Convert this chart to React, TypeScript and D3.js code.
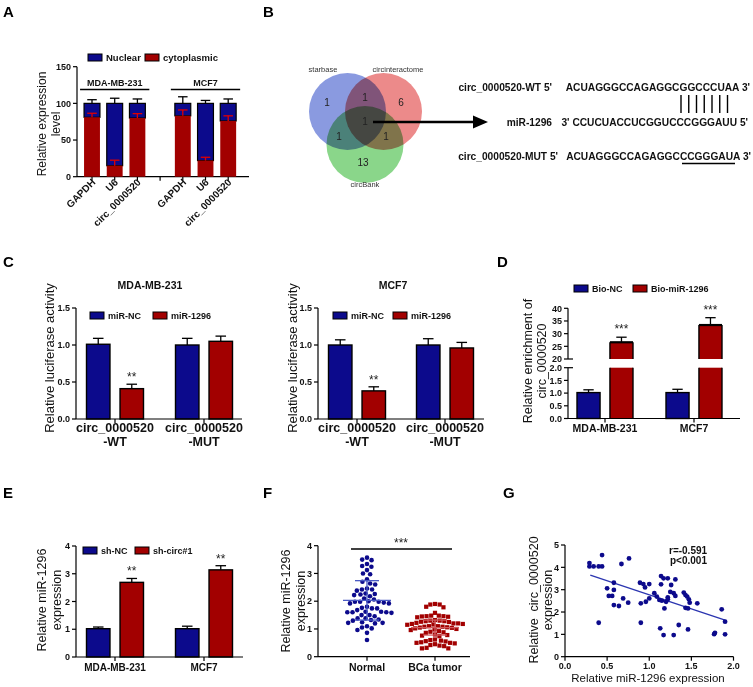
import React from 'react';
import * as d3 from 'd3';

const FONT = '"Liberation Sans", Arial, Helvetica, sans-serif';
const BLUE = '#0c0a8c';
const RED = '#a20000';
const INK = '#111';

// ---------- Panel A ----------
const aCells = ['MDA-MB-231', 'MCF7'];
const aGenes = ['GAPDH', 'U6', 'circ_0000520'];
const aCytoplasmic = [81, 15, 80, 83, 22, 76];
const aCytoplasmicErr = [5.5, 7.5, 6, 8, 4.5, 7];
const aNuclear = [19, 85, 20, 17, 78, 24];
const aNuclearErr = [5, 7, 6, 9, 4, 6];
const aTicks = [0, 50, 100, 150];

// ---------- Panel B ----------
const vennSets = ['starbase', 'circinteractome', 'circBank'];
const vennUnique = [1, 6, 13];
const vennPairs = [1, 1, 1]; // starbase∩circinteractome, starbase∩circBank, circinteractome∩circBank
const vennAll = 1;
const seqWT = 'ACUAGGGCCAGAGGCGGCCCUAA';
const seqMiR = 'CCUCUACCUCGGUCCCGGGAUU';
const seqMUT = 'ACUAGGGCCAGAGGCCCGGGAUA';

// ---------- Panel C ----------
const cConstructs = ['WT', 'MUT'];
const cSeries = ['miR-NC', 'miR-1296'];
const cMdaNC = [1.01, 1.0];
const cMdaNCErr = [0.08, 0.09];
const cMdaMiR = [0.41, 1.05];
const cMdaMiRErr = [0.06, 0.07];
const cMcfNC = [1.0, 1.0];
const cMcfNCErr = [0.07, 0.085];
const cMcfMiR = [0.38, 0.96];
const cMcfMiRErr = [0.055, 0.075];
const cTicks = [0, 0.5, 1.0, 1.5];

// ---------- Panel D ----------
const dCells = ['MDA-MB-231', 'MCF7'];
const dSeries = ['Bio-NC', 'Bio-miR-1296'];
const dNC = [1.02, 1.02];
const dNCErr = [0.11, 0.13];
const dMiR = [26.6, 33.4];
const dMiRErr = [2.0, 2.9];
const dTicksLow = [0, 0.5, 1.0, 1.5, 2.0];
const dTicksHigh = [20, 25, 30, 35, 40];

// ---------- Panel E ----------
const eCells = ['MDA-MB-231', 'MCF7'];
const eSeries = ['sh-NC', 'sh-circ#1'];
const eNC = [1.02, 1.02];
const eNCErr = [0.06, 0.09];
const eSh = [2.69, 3.14];
const eShErr = [0.14, 0.15];
const eTicks = [0, 1, 2, 3, 4];

// ---------- Panel F ----------
const fGroups = ['Normal', 'BCa tumor'];
const fNormal = [3.57, 3.5, 3.48, 3.34, 3.27, 3.24, 3.12, 3.0, 2.97, 2.79, 2.7, 2.64, 2.6, 2.46, 2.42, 2.42, 2.38, 2.28, 2.26, 2.24,
  2.22, 2.18, 2.1, 2.06, 2.0, 1.98, 1.98, 1.98, 1.95, 1.92, 1.92, 1.8, 1.76, 1.74, 1.74, 1.68, 1.62, 1.62, 1.6, 1.6,
  1.6, 1.58, 1.5, 1.5, 1.46, 1.38, 1.38, 1.34, 1.32, 1.3, 1.24, 1.22, 1.22, 1.2, 1.1, 1.05, 1.02, 0.96, 0.86, 0.6];
const fTumor = [1.9, 1.88, 1.88, 1.8, 1.78, 1.58, 1.48, 1.48, 1.46, 1.46, 1.45, 1.44, 1.42, 1.32, 1.3, 1.3, 1.28, 1.28, 1.26, 1.25,
  1.22, 1.2, 1.2, 1.18, 1.18, 1.16, 1.15, 1.1, 1.1, 1.08, 1.08, 1.06, 1.05, 1.04, 1.02, 1.0, 0.98, 0.96, 0.92, 0.9,
  0.88, 0.86, 0.8, 0.78, 0.76, 0.74, 0.62, 0.6, 0.58, 0.56, 0.55, 0.52, 0.5, 0.5, 0.48, 0.45, 0.42, 0.4, 0.38, 0.32, 0.3, 0.3];
const fMeanSD = [[2.03, 0.71], [1.05, 0.27]];
const fTicks = [0, 1, 2, 3, 4];

// ---------- Panel G ----------
const gX = [0.29, 0.29, 0.34, 0.40, 0.44, 0.44, 0.67, 0.76, 0.40, 0.50, 0.58, 0.58, 0.52, 0.56, 0.58, 0.64, 0.69, 0.75,
  0.89, 0.93, 0.95, 1.00, 0.90, 0.96, 1.00, 0.90, 1.06, 1.09, 1.12, 1.14, 1.14, 1.17, 1.22, 1.31, 1.26,
  1.15, 1.20, 1.22, 1.22, 1.18, 1.29, 1.25, 1.31, 1.13, 1.17, 1.29, 1.35, 1.46, 1.41, 1.43, 1.45, 1.47, 1.48, 1.43, 1.46, 1.57,
  1.77, 1.78, 1.86, 1.90, 1.90];
const gY = [4.19, 4.04, 4.04, 4.04, 4.04, 4.55, 4.15, 4.40, 1.52, 3.06, 3.31, 2.99, 2.72, 2.72, 2.31, 2.27, 2.61, 2.42,
  3.31, 3.25, 3.10, 3.25, 2.39, 2.46, 2.61, 1.52, 2.84, 2.69, 2.54, 3.61, 3.24, 3.51, 3.51, 3.46, 3.21,
  2.51, 2.46, 2.66, 2.57, 2.16, 2.84, 2.90, 2.72, 1.27, 0.97, 0.97, 1.42, 1.22, 2.87, 2.76, 2.69, 2.57, 2.42, 2.19, 2.16, 2.39,
  1.01, 1.07, 2.12, 1.57, 1.00];
const gFit = [4.03, -1.26]; // intercept, slope
const gFitRange = [0.3, 1.9];
const gStats = ['r=-0.591', 'p<0.001'];
const gTicksX = [0, 0.5, 1.0, 1.5, 2.0];
const gTicksY = [0, 1, 2, 3, 4, 5];

// ---------- helpers ----------
function YAxis({ x, scale, ticks, fmt }: any) {
  const [r0, r1] = scale.range();
  return (
    <g>
      <line x1={x} x2={x} y1={r0} y2={r1} stroke="#000" strokeWidth={1.2} />
      {ticks.map((t: number) => (
        <g key={t}>
          <line x1={x - 4} x2={x} y1={scale(t)} y2={scale(t)} stroke="#000" strokeWidth={1.2} />
          <text x={x - 6} y={scale(t) + 3.2} textAnchor="end" fontSize={9} fontWeight="bold" fill={INK}>{fmt(t)}</text>
        </g>
      ))}
    </g>
  );
}

function XLine({ x1, x2, y, ticks = [] }: any) {
  return (
    <g>
      <line x1={x1} x2={x2} y1={y} y2={y} stroke="#000" strokeWidth={1.2} />
      {ticks.map((t: number, i: number) => (
        <line key={i} x1={t} x2={t} y1={y} y2={y + 4} stroke="#000" strokeWidth={1.2} />
      ))}
    </g>
  );
}

function ErrBar({ x, y0, y1, cap, color = '#000' }: any) {
  return (
    <g stroke={color} strokeWidth={1.3}>
      <line x1={x} x2={x} y1={y0} y2={y1} />
      <line x1={x - cap / 2} x2={x + cap / 2} y1={y1} y2={y1} />
    </g>
  );
}

function RotLabel({ x, y, lines, size = 12.5, gap = 15 }: any) {
  return (
    <g>
      {lines.map((l: string, i: number) => (
        <text key={i} transform={`translate(${x + i * gap},${y}) rotate(-90)`} textAnchor="middle" fontSize={size} fill={INK} style={{ whiteSpace: 'pre' }}>{l}</text>
      ))}
    </g>
  );
}

function Legend({ items, colors, xs, y, size = 9 }: any) {
  return (
    <g>
      {items.map((it: string, i: number) => (
        <g key={it}>
          <rect x={xs[i]} y={y - 7} width={14} height={7} fill={colors[i]} stroke="#000" strokeWidth={1} />
          <text x={xs[i] + 18} y={y} fontSize={size} fontWeight="bold" fill={INK}>{it}</text>
        </g>
      ))}
    </g>
  );
}

function bands(groups: string[], series: string[], center0: number, step: number, groupW: number, innerPad = 0.3) {
  const p = 1 - groupW / step;
  const outer = d3.scaleBand().domain(groups).range([center0 - step / 2, center0 + step * (groups.length - 0.5)]).paddingInner(p).paddingOuter(p / 2);
  const inner = d3.scaleBand().domain(series).range([0, outer.bandwidth()]).paddingInner(innerPad);
  return { outer, inner };
}

function GroupedBars({ groups, series, vals, errs, colors, center0, step, groupW, y, stars = [] }: any) {
  const { outer, inner } = bands(groups, series, center0, step, groupW);
  const bw = inner.bandwidth();
  return (
    <g>
      {groups.map((g: string, gi: number) =>
        series.map((s: string, si: number) => {
          const v = vals[si][gi];
          const e = errs[si][gi];
          const x = (outer(g) as number) + (inner(s) as number);
          const star = stars[si] && stars[si][gi];
          return (
            <g key={g + s}>
              <ErrBar x={x + bw / 2} y0={y(v)} y1={y(v + e)} cap={bw * 0.45} />
              <rect x={x} y={y(v)} width={bw} height={y(0) - y(v)} fill={colors[si]} stroke="#000" strokeWidth={1.4} />
              {star ? <text x={x + bw / 2} y={y(v + e) - 3} textAnchor="middle" fontSize={12} fill="#222">{star}</text> : null}
            </g>
          );
        })
      )}
    </g>
  );
}

function beeswarm(values: number[], y: (v: number) => number, cx: number, d: number) {
  const pts = values.map((v) => ({ v, y: y(v), x: 0 }));
  const order = pts.slice().sort((a, b) => a.y - b.y);
  const placed: any[] = [];
  for (const p of order) {
    const cands = [0];
    for (const q of placed) {
      const dy = Math.abs(q.y - p.y);
      if (dy < d) {
        const dx = Math.sqrt(d * d - dy * dy);
        cands.push(q.x + dx, q.x - dx);
      }
    }
    cands.sort((a, b) => Math.abs(a) - Math.abs(b) || a - b);
    for (const c of cands) {
      if (placed.every((q) => (q.x - c) ** 2 + (q.y - p.y) ** 2 >= d * d - 1e-6)) {
        p.x = c;
        break;
      }
    }
    placed.push(p);
  }
  return pts.map((p) => ({ v: p.v, y: p.y, x: cx + p.x }));
}

function PanelLetter({ x, y, t }: any) {
  return <text x={x} y={y} fontSize={15} fontWeight="bold" fill="#000">{t}</text>;
}

// ---------- panels ----------
function PanelA() {
  const y = d3.scaleLinear().domain([0, 150]).range([176.7, 66.7]);
  const slots = ['m0', 'm1', 'm2', 'gap', 'c0', 'c1', 'c2'];
  const x = d3.scaleBand().domain(slots).range([80.65, 239.55]).paddingInner(0.3).paddingOuter(0.15);
  const bw = x.bandwidth();
  const keys = ['m0', 'm1', 'm2', 'c0', 'c1', 'c2'];
  return (
    <g>
      <PanelLetter x={3} y={17} t="A" />
      <Legend items={['Nuclear', 'cytoplasmic']} colors={[BLUE, RED]} xs={[88, 145]} y={61} size={9.5} />
      <YAxis x={77} scale={y} ticks={aTicks} fmt={(t: number) => String(t)} />
      <XLine x1={77} x2={249} y={176.7} ticks={[...keys.map((k) => (x(k) as number) + bw / 2), (x('gap') as number) + bw / 2]} />
      {keys.map((k, i) => {
        const x0 = x(k) as number;
        const cyto = aCytoplasmic[i];
        const top = cyto + aNuclear[i];
        return (
          <g key={k}>
            <ErrBar x={x0 + bw / 2} y0={y(top)} y1={y(top + aNuclearErr[i])} cap={bw * 0.6} color="#000" />
            <rect x={x0} y={y(top)} width={bw} height={y(cyto) - y(top)} fill={BLUE} stroke="#000" strokeWidth={1.2} />
            <rect x={x0} y={y(cyto)} width={bw} height={y(0) - y(cyto)} fill={RED} />
            <ErrBar x={x0 + bw / 2} y0={y(cyto)} y1={y(cyto + aCytoplasmicErr[i])} cap={bw * 0.6} color="#e00000" />
          </g>
        );
      })}
      {aCells.map((c, ci) => {
        const first = x(keys[ci * 3]) as number;
        const last = (x(keys[ci * 3 + 2]) as number) + bw;
        return (
          <g key={c}>
            <line x1={first - 4} x2={last + 4} y1={89.5} y2={89.5} stroke="#000" strokeWidth={1.3} />
            <text x={(first + last) / 2} y={85.5} textAnchor="middle" fontSize={9} fontWeight="bold" fill={INK}>{c}</text>
          </g>
        );
      })}
      {keys.map((k, i) => (
        <text key={k} transform={`translate(${(x(k) as number) + bw / 2 + 4},${183}) rotate(-45)`} textAnchor="end" fontSize={10} fontWeight="bold" fill={INK}>
          {aGenes[i % 3]}
        </text>
      ))}
      <RotLabel x={46} y={124} lines={['Relative expression', 'level']} size={12} gap={14} />
    </g>
  );
}

function PanelB() {
  const circles = [
    { cx: 347.5, cy: 111.5, r: 38.5, fill: '#8a9ae0' },
    { cx: 383.5, cy: 111.5, r: 38.5, fill: '#ec8a8a' },
    { cx: 365, cy: 144.5, r: 38.5, fill: '#8ad68a' },
  ];
  const nums = [
    { x: 327, y: 106, t: vennUnique[0] },
    { x: 401, y: 106, t: vennUnique[1] },
    { x: 363, y: 166, t: vennUnique[2] },
    { x: 365, y: 101, t: vennPairs[0] },
    { x: 339, y: 140, t: vennPairs[1] },
    { x: 386, y: 140, t: vennPairs[2] },
    { x: 365, y: 125, t: vennAll },
  ];
  return (
    <g>
      <PanelLetter x={263} y={17} t="B" />
      {circles.map((c, i) => (
        <circle key={i} cx={c.cx} cy={c.cy} r={c.r} fill={c.fill} style={{ mixBlendMode: 'multiply' }} />
      ))}
      {nums.map((n, i) => (
        <text key={i} x={n.x} y={n.y} textAnchor="middle" fontSize={10} fill="#222">{n.t}</text>
      ))}
      <text x={323} y={71.5} textAnchor="middle" fontSize={7.5} fill="#333">{vennSets[0]}</text>
      <text x={398} y={71.5} textAnchor="middle" fontSize={7.5} fill="#333">{vennSets[1]}</text>
      <text x={365} y={187} textAnchor="middle" fontSize={7.5} fill="#333">{vennSets[2]}</text>
      <line x1={373} x2={476} y1={122} y2={122} stroke="#000" strokeWidth={2.6} />
      <polygon points="473,115.5 488,122 473,128.5" fill="#000" />
      <g fontSize={10.2} fontWeight="bold" fill={INK}>
        <text x={552} y={91} textAnchor="end">circ_0000520-WT 5'</text>
        <text x={750} y={91} textAnchor="end">{seqWT} 3'</text>
        <text x={552} y={126} textAnchor="end">miR-1296</text>
        <text x={748} y={126} textAnchor="end">3' {seqMiR} 5'</text>
        <text x={558} y={160} textAnchor="end">circ_0000520-MUT 5'</text>
        <text x={751} y={160} textAnchor="end">{seqMUT} 3'</text>
      </g>
      {d3.range(7).map((i) => (
        <line key={i} x1={681 + i * 7.75} x2={681 + i * 7.75} y1={95} y2={113} stroke="#000" strokeWidth={1.4} />
      ))}
      <line x1={682} x2={735} y1={163.5} y2={163.5} stroke="#000" strokeWidth={1.3} />
    </g>
  );
}

function LucPanel({ title, axisX, center0, step, nc, ncErr, mir, mirErr, legendXs, labelX, titleX }: any) {
  const y = d3.scaleLinear().domain([0, 1.5]).range([419, 308]);
  return (
    <g>
      <text x={titleX} y={289} textAnchor="middle" fontSize={10.5} fontWeight="bold" fill={INK}>{title}</text>
      <Legend items={cSeries} colors={[BLUE, RED]} xs={legendXs} y={319} />
      <GroupedBars groups={cConstructs} series={cSeries} vals={[nc, mir]} errs={[ncErr, mirErr]} colors={[BLUE, RED]}
        center0={center0} step={step} groupW={57} y={y} stars={[[null, null], ['**', null]]} />
      <YAxis x={axisX} scale={y} ticks={cTicks} fmt={d3.format('.1f')} />
      <XLine x1={axisX} x2={axisX + 166} y={419} ticks={[center0, center0 + step]} />
      {cConstructs.map((c, i) => (
        <g key={c}>
          <text x={center0 + i * step} y={432} textAnchor="middle" fontSize={12.5} fontWeight="bold" fill={INK}>circ_0000520</text>
          <text x={center0 + i * step} y={446} textAnchor="middle" fontSize={12.5} fontWeight="bold" fill={INK}>-{c}</text>
        </g>
      ))}
      <RotLabel x={labelX} y={358} lines={['Relative luciferase activity']} size={13} />
    </g>
  );
}

function PanelD() {
  const yLo = d3.scaleLinear().domain([0, 2]).range([418.5, 367.7]);
  const yHi = d3.scaleLinear().domain([20, 40]).range([359, 308.3]);
  const { outer, inner } = bands(dCells, dSeries, 605, 89, 56);
  const bw = inner.bandwidth();
  const axisX = 568;
  return (
    <g>
      <PanelLetter x={497} y={267} t="D" />
      <Legend items={dSeries} colors={[BLUE, RED]} xs={[574, 633]} y={292} />
      {dCells.map((c, gi) => {
        const xNC = (outer(c) as number) + (inner(dSeries[0]) as number);
        const xM = (outer(c) as number) + (inner(dSeries[1]) as number);
        const v = dMiR[gi];
        return (
          <g key={c}>
            <ErrBar x={xNC + bw / 2} y0={yLo(dNC[gi])} y1={yLo(dNC[gi] + dNCErr[gi])} cap={bw * 0.45} />
            <rect x={xNC} y={yLo(dNC[gi])} width={bw} height={yLo(0) - yLo(dNC[gi])} fill={BLUE} stroke="#000" strokeWidth={1.4} />
            <rect x={xM} y={yLo(2)} width={bw} height={yLo(0) - yLo(2)} fill={RED} />
            <g stroke="#000" strokeWidth={1.4}>
              <line x1={xM} x2={xM} y1={yLo(2)} y2={yLo(0)} />
              <line x1={xM + bw} x2={xM + bw} y1={yLo(2)} y2={yLo(0)} />
            </g>
            <ErrBar x={xM + bw / 2} y0={yHi(v)} y1={yHi(v + dMiRErr[gi])} cap={bw * 0.45} />
            <rect x={xM} y={yHi(v)} width={bw} height={yHi(20) - yHi(v)} fill={RED} />
            <g stroke="#000" strokeWidth={1.4}>
              <line x1={xM} x2={xM} y1={yHi(v)} y2={yHi(20)} />
              <line x1={xM + bw} x2={xM + bw} y1={yHi(v)} y2={yHi(20)} />
              <line x1={xM} x2={xM + bw} y1={yHi(v)} y2={yHi(v)} strokeWidth={2.2} />
            </g>
            <text x={xM + bw / 2} y={yHi(v + dMiRErr[gi]) - 4} textAnchor="middle" fontSize={12} fill="#222">***</text>
          </g>
        );
      })}
      <YAxis x={axisX} scale={yHi} ticks={dTicksHigh} fmt={(t: number) => String(t)} />
      <YAxis x={axisX} scale={yLo} ticks={dTicksLow} fmt={d3.format('.1f')} />
      <line x1={axisX} x2={axisX + 5} y1={359} y2={359} stroke="#000" strokeWidth={1.2} />
      <line x1={axisX} x2={axisX + 5} y1={367.7} y2={367.7} stroke="#000" strokeWidth={1.2} />
      <XLine x1={axisX} x2={740} y={418.5} ticks={dCells.map((c) => (outer(c) as number) + outer.bandwidth() / 2)} />
      {dCells.map((c) => (
        <text key={c} x={(outer(c) as number) + outer.bandwidth() / 2} y={432} textAnchor="middle" fontSize={10.5} fontWeight="bold" fill={INK}>{c}</text>
      ))}
      <RotLabel x={532} y={361} lines={['Relative enrichment of', 'circ_0000520']} size={12.5} gap={13.5} />
    </g>
  );
}

function PanelE() {
  const y = d3.scaleLinear().domain([0, 4]).range([657, 546]);
  const axisX = 76;
  return (
    <g>
      <PanelLetter x={3} y={498} t="E" />
      <Legend items={eSeries} colors={[BLUE, RED]} xs={[83, 135]} y={554} />
      <GroupedBars groups={eCells} series={eSeries} vals={[eNC, eSh]} errs={[eNCErr, eShErr]} colors={[BLUE, RED]}
        center0={115} step={89} groupW={57} y={y} stars={[[null, null], ['**', '**']]} />
      <YAxis x={axisX} scale={y} ticks={eTicks} fmt={(t: number) => String(t)} />
      <XLine x1={axisX} x2={243} y={657} ticks={[115, 204]} />
      {eCells.map((c, i) => (
        <text key={c} x={115 + i * 89} y={671} textAnchor="middle" fontSize={10} fontWeight="bold" fill={INK}>{c}</text>
      ))}
      <RotLabel x={46} y={600} lines={['Relative miR-1296', 'expression']} size={12.5} gap={15} />
    </g>
  );
}

function PanelF() {
  const y = d3.scaleLinear().domain([0, 4]).range([656.7, 545.7]);
  const x = d3.scalePoint().domain(fGroups).range([367, 435]);
  const normal = beeswarm(fNormal, y, x('Normal') as number, 5.2);
  const tumor = beeswarm(fTumor, y, x('BCa tumor') as number, 4.7);
  const lineCols = ['#4b5bc4', '#d0585c'];
  return (
    <g>
      <PanelLetter x={263} y={498} t="F" />
      {normal.map((p, i) => <circle key={i} cx={p.x} cy={p.y} r={2.3} fill={BLUE} />)}
      {tumor.map((p, i) => <rect key={i} x={p.x - 2.1} y={p.y - 2.1} width={4.2} height={4.2} fill={RED} />)}
      {fGroups.map((g, i) => {
        const cx = x(g) as number;
        const [m, sd] = fMeanSD[i];
        return (
          <g key={g} stroke={lineCols[i]} strokeWidth={1.3}>
            <line x1={cx - 24} x2={cx + 24} y1={y(m)} y2={y(m)} />
            <line x1={cx} x2={cx} y1={y(m - sd)} y2={y(m + sd)} />
            <line x1={cx - 12} x2={cx + 12} y1={y(m - sd)} y2={y(m - sd)} />
            <line x1={cx - 12} x2={cx + 12} y1={y(m + sd)} y2={y(m + sd)} />
          </g>
        );
      })}
      <line x1={351} x2={452} y1={549} y2={549} stroke="#000" strokeWidth={1.4} />
      <text x={401} y={547} textAnchor="middle" fontSize={12} fill="#222">***</text>
      <YAxis x={318} scale={y} ticks={fTicks} fmt={(t: number) => String(t)} />
      <XLine x1={318} x2={470} y={656.7} ticks={fGroups.map((g) => x(g) as number)} />
      {fGroups.map((g) => (
        <text key={g} x={x(g) as number} y={671} textAnchor="middle" fontSize={10.5} fontWeight="bold" fill={INK}>{g}</text>
      ))}
      <RotLabel x={290} y={601} lines={['Relative miR-1296', 'expression']} size={12.5} gap={14.5} />
    </g>
  );
}

function PanelG() {
  const x = d3.scaleLinear().domain([0, 2]).range([565, 733.5]);
  const y = d3.scaleLinear().domain([0, 5]).range([656.7, 545]);
  const fit = (v: number) => gFit[0] + gFit[1] * v;
  return (
    <g>
      <PanelLetter x={503} y={498} t="G" />
      <line x1={x(gFitRange[0])} x2={x(gFitRange[1])} y1={y(fit(gFitRange[0]))} y2={y(fit(gFitRange[1]))} stroke="#2b35b0" strokeWidth={1.3} />
      {gX.map((v, i) => <circle key={i} cx={x(v)} cy={y(gY[i])} r={2.4} fill={BLUE} />)}
      <YAxis x={565} scale={y} ticks={gTicksY} fmt={(t: number) => String(t)} />
      <line x1={565} x2={733.5} y1={656.7} y2={656.7} stroke="#000" strokeWidth={1.2} />
      {gTicksX.map((t) => (
        <g key={t}>
          <line x1={x(t)} x2={x(t)} y1={656.7} y2={660.7} stroke="#000" strokeWidth={1.2} />
          <text x={x(t)} y={669} textAnchor="middle" fontSize={9} fontWeight="bold" fill={INK}>{d3.format('.1f')(t)}</text>
        </g>
      ))}
      <text x={669} y={554} fontSize={10} fontWeight="bold" fill={INK}>{gStats[0]}</text>
      <text x={670} y={564} fontSize={10} fontWeight="bold" fill={INK}>{gStats[1]}</text>
      <text x={648} y={682} textAnchor="middle" fontSize={11.5} fill={INK}>Relative miR-1296 expression</text>
      <RotLabel x={538} y={600} lines={['Relative  circ_0000520', 'expression']} size={12.5} gap={13.5} />
    </g>
  );
}

export default function App() {
  return (
    <svg width={753} height={687} style={{ position: 'absolute', left: 0, top: 0, background: '#fff' }} fontFamily={FONT}>
      <rect width={753} height={687} fill="#fff" />
      <PanelA />
      <PanelB />
      <PanelLetter x={3} y={267} t="C" />
      <LucPanel title="MDA-MB-231" axisX={76} center0={115} step={89} nc={cMdaNC} ncErr={cMdaNCErr} mir={cMdaMiR} mirErr={cMdaMiRErr}
        legendXs={[90, 153]} labelX={54} titleX={150} />
      <LucPanel title="MCF7" axisX={318} center0={357} step={88} nc={cMcfNC} ncErr={cMcfNCErr} mir={cMcfMiR} mirErr={cMcfMiRErr}
        legendXs={[333, 393]} labelX={297} titleX={393} />
      <PanelD />
      <PanelE />
      <PanelF />
      <PanelG />
    </svg>
  );
}
